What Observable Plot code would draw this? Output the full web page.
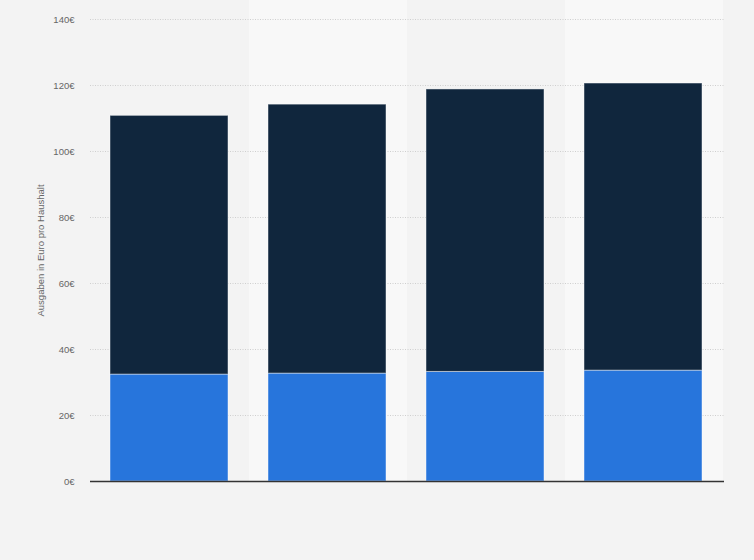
<!DOCTYPE html>
<html>
<head>
<meta charset="utf-8">
<script src="https://cdn.jsdelivr.net/npm/d3@7"></script>
<script src="https://cdn.jsdelivr.net/npm/@observablehq/plot@0.6"></script>
<style>
  html, body { margin: 0; padding: 0; background: #f3f3f3; }
  #chart { width: 754px; height: 560px; }
</style>
</head>
<body>
<div id="chart"></div>
<script>
const categories = ["2019", "2020", "2021", "2022"];
const seriesNames = ["Teil A", "Teil B"];
const valuesA = [32.4, 32.7, 33.2, 33.6];
const valuesB = [78.4, 81.5, 85.6, 87.0];
const yTicks = [0, 20, 40, 60, 80, 100, 120, 140];
const yLabel = "Ausgaben in Euro pro Haushalt";

const rows = [];
categories.forEach((c, i) => {
  rows.push({cat: c, series: seriesNames[0], value: valuesA[i], order: 0});
  rows.push({cat: c, series: seriesNames[1], value: valuesB[i], order: 1});
});
const bands = categories.filter((c, i) => i % 2 === 1).map(c => ({cat: c}));

const chart = Plot.plot({
  width: 754,
  height: 560,
  marginLeft: 90,
  marginRight: 30,
  marginTop: 19,
  marginBottom: 79,
  style: {background: "#f3f3f3", fontFamily: "Arial, 'Liberation Sans', sans-serif"},
  x: {domain: categories, padding: 0, axis: null},
  y: {domain: [0, 140], ticks: yTicks, label: null, axis: null},
  color: {domain: seriesNames, range: ["#2775dc", "#10263d"]},
  marks: [
    Plot.barY(bands, {x: "cat", y1: 0, y2: 140, fill: "#f8f8f8", insetTop: -19}),
    Plot.gridY(yTicks, {stroke: "#cfcfcf", strokeOpacity: 1, strokeDasharray: "1,1.5", strokeWidth: 1}),
    Plot.axisY(yTicks, {tickSize: 0, tickPadding: 16, tickFormat: d => d + "€", fill: "#666", fontSize: 9.5, label: null}),
    Plot.barY(rows, Plot.stackY({
      x: "cat", y: "value", fill: "series", order: "order",
      insetLeft: 19, insetRight: 21,
      stroke: "#ffffff", strokeOpacity: 0.45, strokeWidth: 1
    })),
    Plot.ruleY([0], {stroke: "#333", strokeWidth: 1.5}),
    Plot.text([yLabel], {
      frameAnchor: "left", dx: -50, text: d => d, rotate: -90,
      textAnchor: "middle", fill: "#666", fontSize: 9.5
    })
  ]
});
document.getElementById("chart").appendChild(chart);
</script>
</body>
</html>
